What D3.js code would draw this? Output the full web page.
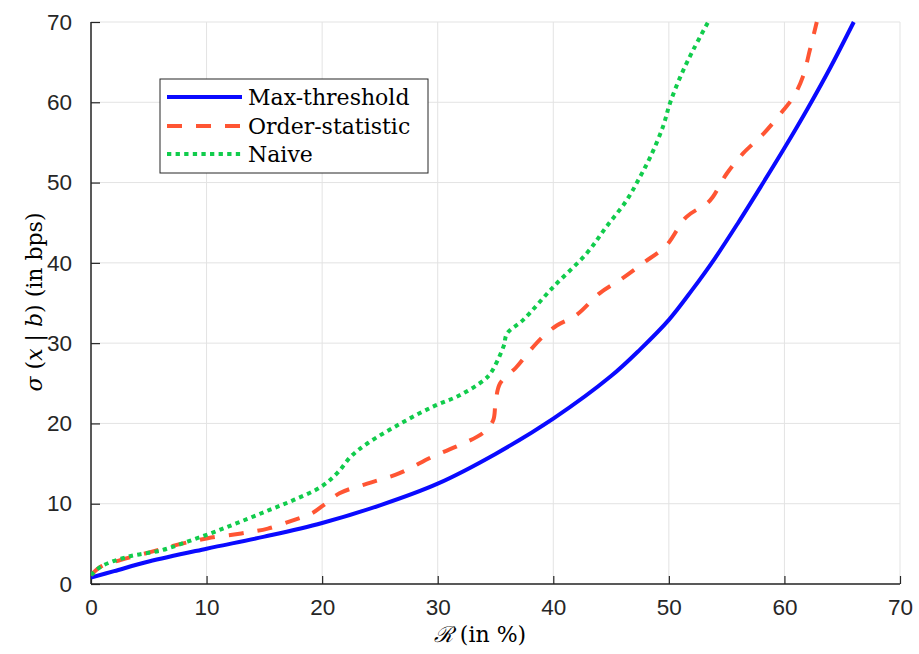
<!DOCTYPE html>
<html><head><meta charset="utf-8">
<script src="https://cdn.jsdelivr.net/npm/d3@7"></script>
<style>body{margin:0;background:#fff}</style>
</head><body>
<svg id="c" width="919" height="654"></svg>
<script>
const xTicks = [0,10,20,30,40,50,60,70];
const yTicks = [0,10,20,30,40,50,60,70];
const seriesNames = ["Max-threshold","Order-statistic","Naive"];
const maxThreshold = [[0,0.8],[2,1.6],[5,2.8],[10,4.4],[15,5.9],[20,7.6],[25,9.8],[30,12.5],[35,16.2],[40,20.6],[45,25.9],[47.5,29.2],[50,32.9],[52,36.6],[54,40.6],[56,45.0],[58,49.6],[60,54.3],[62,59.2],[64,64.4],[66,70]];
const orderStatistic = [[0,1.1],[0.9,2.2],[2.6,3.0],[5.2,4.0],[7.5,4.9],[10.1,5.7],[13,6.3],[15.3,6.9],[17.6,8.0],[19.1,8.8],[20.1,9.8],[21.5,11.3],[23.9,12.5],[26.7,13.8],[29.6,15.9],[31.9,17.3],[34,18.9],[34.8,20.4],[35.0,22.5],[35.4,25],[36.8,27],[38.0,29.1],[39.1,30.8],[40.3,32.2],[42.0,33.5],[44.0,36.2],[45.8,37.9],[47.8,40],[49.8,42.2],[51.5,45.7],[53.3,47.4],[53.8,48.2],[55.0,51.1],[56.4,53.6],[58.2,56.1],[59.9,59.0],[60.8,60.7],[61.6,63.2],[62.2,66.5],[62.8,70]];
const naive = [[0,1.1],[0.9,2.2],[3.2,3.4],[6.1,4.2],[8.4,5.3],[10.7,6.5],[13,7.8],[15.4,9.2],[17.6,10.5],[19.9,12.1],[21.3,13.8],[22.5,15.9],[23.9,17.5],[26.8,20.0],[29.6,22.1],[31.9,23.5],[34,25.4],[34.6,26.3],[35.7,29.6],[36.0,31.2],[37.4,32.9],[40.0,37.0],[42.9,41.2],[44.6,44.5],[46.35,47.8],[47.5,50.7],[48.4,53.2],[49.5,57.0],[50.1,59.9],[51.0,63.2],[52.1,66.5],[53.4,70]];

const svg = d3.select("#c");
const L=91, R=900, T=22, B=584;
const x = d3.scaleLinear().domain([0,70]).range([L,R]);
const y = d3.scaleLinear().domain([0,70]).range([B,T]);
const tickCol="#262626", gridCol="#e3e3e3";

// grid
const g = svg.append("g");
g.selectAll(".gx").data(xTicks).join("line")
  .attr("x1",d=>x(d)).attr("x2",d=>x(d)).attr("y1",T).attr("y2",B)
  .attr("stroke",gridCol).attr("stroke-width",1);
g.selectAll(".gy").data(yTicks).join("line")
  .attr("y1",d=>y(d)).attr("y2",d=>y(d)).attr("x1",L).attr("x2",R)
  .attr("stroke",gridCol).attr("stroke-width",1);

// axes
const xAxis = d3.axisBottom(x).tickValues(xTicks).tickSize(-8).tickPadding(15);
const yAxis = d3.axisLeft(y).tickValues(yTicks).tickSize(-9).tickPadding(19);
const ax = svg.append("g").attr("transform",`translate(0,${B})`).call(xAxis);
const ay = svg.append("g").attr("transform",`translate(${L},0)`).call(yAxis);
[ax,ay].forEach(a=>{
  a.select(".domain").attr("stroke",tickCol).attr("stroke-width",1.5);
  a.selectAll(".tick line").attr("stroke",tickCol).attr("stroke-width",1.2);
  a.selectAll(".tick text").attr("fill",tickCol).attr("font-family","Liberation Sans, Arial, sans-serif").attr("font-size",22.5);
});
ax.select(".domain").attr("d",`M${L},0H${R}`);
ay.select(".domain").attr("d",`M0,${B}V${T}`);

// lines
const line = d3.line().x(d=>x(d[0])).y(d=>y(d[1])).curve(d3.curveCatmullRom.alpha(0.5));
svg.append("clipPath").attr("id","clp").append("rect").attr("x",L).attr("y",T-1).attr("width",R-L).attr("height",B-T+1);
const styles = [
  {data:maxThreshold,color:"#0a0aff",dash:null},
  {data:orderStatistic,color:"#ff5533",dash:"15,14"},
  {data:naive,color:"#11cc4c",dash:"4.3,4.3"}
];
styles.forEach(s=>{
  svg.append("path").datum(s.data).attr("d",line)
    .attr("fill","none").attr("stroke",s.color).attr("stroke-width",4)
    .attr("stroke-dasharray",s.dash).attr("clip-path","url(#clp)");
});

// legend
const lg = svg.append("g");
lg.append("rect").attr("x",160).attr("y",79).attr("width",268).attr("height",94)
  .attr("fill","#fff").attr("stroke",tickCol).attr("stroke-width",1);
const ly=[97,126,154];
styles.forEach((s,i)=>{
  lg.append("line").attr("x1",167).attr("x2",242).attr("y1",ly[i]).attr("y2",ly[i])
    .attr("stroke",s.color).attr("stroke-width",4).attr("stroke-dasharray",s.dash);
  lg.append("text").attr("x",248).attr("y",ly[i]+8).text(seriesNames[i])
    .attr("font-family","DejaVu Serif, serif").attr("font-size",22).attr("fill","#000");
});

// axis labels
const xl = svg.append("text").attr("x",480).attr("y",642).attr("text-anchor","middle")
  .attr("font-family","DejaVu Serif, serif").attr("font-size",22).attr("fill","#000");
xl.append("tspan").attr("font-style","italic").text("ℛ");
xl.append("tspan").text(" (in %)");
const yl = svg.append("text").attr("transform","translate(42,302) rotate(-90)").attr("text-anchor","middle")
  .attr("font-family","DejaVu Serif, serif").attr("font-size",22).attr("fill","#000");
yl.append("tspan").attr("font-style","italic").text("σ");
yl.append("tspan").text(" (");
yl.append("tspan").attr("font-style","italic").text("x");
yl.append("tspan").text(" | ");
yl.append("tspan").attr("font-style","italic").text("b");
yl.append("tspan").text(") (in bps)");
</script>
</body></html>
